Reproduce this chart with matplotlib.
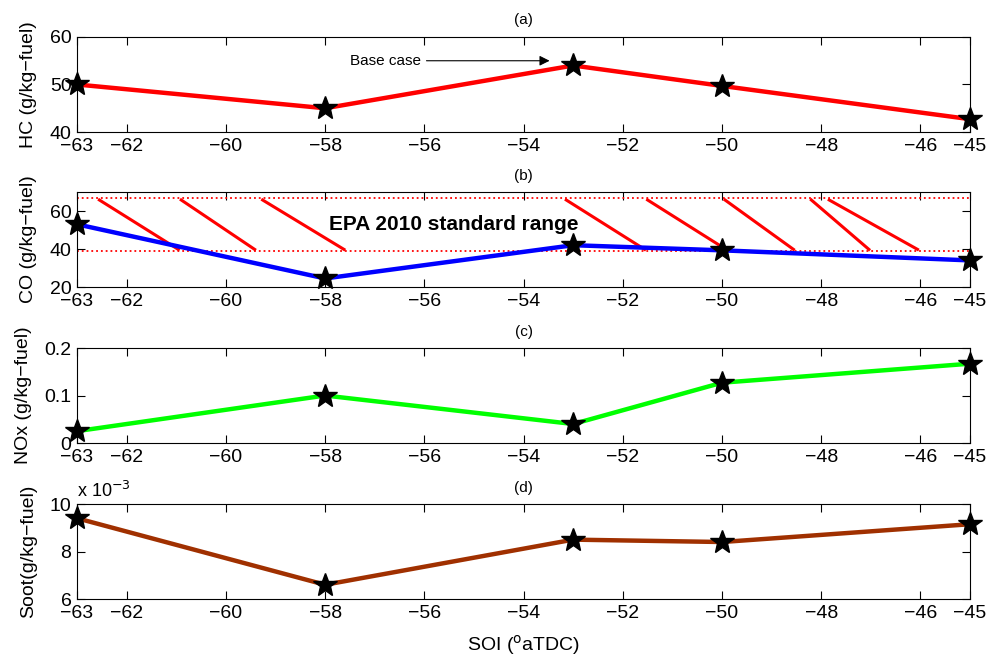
import matplotlib.pyplot as plt
from matplotlib.ticker import FuncFormatter

plt.rcParams['font.family'] = ['Liberation Sans', 'DejaVu Sans']

soi = [-63, -58, -53, -50, -45]
hc = [50, 45, 54, 49.7, 42.7]
co = [53, 24.5, 42, 39.3, 34]
nox = [0.025, 0.1, 0.04, 0.127, 0.167]
soot = [9.4e-3, 6.6e-3, 8.5e-3, 8.4e-3, 9.15e-3]

xticks = [-63, -62, -60, -58, -56, -54, -52, -50, -48, -46, -45]

# EPA band on the CO panel
epa_low, epa_high = 38.8, 66.8
hatch_x0 = [-62.55, -60.9, -59.26, -53.14, -51.5, -49.94, -48.2, -47.84]
hatch_x1 = [-60.96, -59.42, -57.62, -51.56, -49.92, -48.56, -47.04, -46.06]

fig = plt.figure(figsize=(9.89, 6.63), dpi=100)

left, width, height = 0.0779, 0.903, 0.1433
bottoms = [0.8009, 0.5671, 0.3318, 0.0965]
titles = ["(a)", "(b)", "(c)", "(d)"]
ylabels = ["HC (g/kg\u2212fuel)", "CO (g/kg\u2212fuel)", "NOx (g/kg\u2212fuel)", "Soot(g/kg\u2212fuel)"]
series = [hc, co, nox, soot]
colors = ["#ff0000", "#0000ff", "#00ff00", "#a03000"]
ylims = [(40, 60), (20, 70), (0, 0.2), (6e-3, 10e-3)]
yticks = [[40, 50, 60], [20, 40, 60], [0, 0.1, 0.2], [6e-3, 8e-3, 10e-3]]

axes = []
for i in range(4):
    ax = fig.add_axes([left, bottoms[i], width, height])
    ax.plot(soi, series[i], color=colors[i], lw=3.2, zorder=3)
    ax.plot(soi, series[i], ls="none", marker="*", ms=18, color="black",
            clip_on=False, zorder=4)
    ax.set_xlim(-63, -45)
    ax.set_ylim(*ylims[i])
    ax.set_xticks(xticks)
    ax.set_xticklabels([str(t).replace("-", "\u2212") for t in xticks])
    ax.set_yticks(yticks[i])
    ax.tick_params(direction="in", top=True, right=True, length=6,
                   labelsize=14, width=0.8, pad=4)
    ax.set_ylabel(ylabels[i], fontsize=14, labelpad=9)
    ax.set_title(titles[i], fontsize=11, pad=9)
    axes.append(ax)

axes[2].yaxis.set_major_formatter(FuncFormatter(lambda v, p: f"{v:g}"))
axes[3].yaxis.set_major_formatter(FuncFormatter(lambda v, p: f"{v * 1e3:g}"))
axes[3].text(0.0, 1.03, "x 10$^{-3}$", transform=axes[3].transAxes,
             fontsize=13, ha="left", va="bottom")
axes[3].set_xlabel("SOI ($^{\\mathrm{o}}$aTDC)", fontsize=14, labelpad=8)

# base case arrow
axes[0].annotate("Base case", xy=(-53.42, 55), xytext=(-57.5, 55),
                 fontsize=11, va="center",
                 arrowprops=dict(arrowstyle="-|>", color="black", lw=0.8,
                                 mutation_scale=15))

ax = axes[1]
ax.axhline(epa_high, color="red", ls=":", lw=1.3, zorder=2)
ax.axhline(epa_low, color="red", ls=":", lw=1.3, zorder=2)
for x0, x1 in zip(hatch_x0, hatch_x1):
    ax.plot([x0, x1], [epa_high - 1, epa_low + 1], color="red", lw=2.2, zorder=2)
ax.text(-55.4, 53, "EPA 2010 standard range", fontsize=15, fontweight="bold",
        ha="center", va="center")

fig.savefig("out.png", dpi=100)
